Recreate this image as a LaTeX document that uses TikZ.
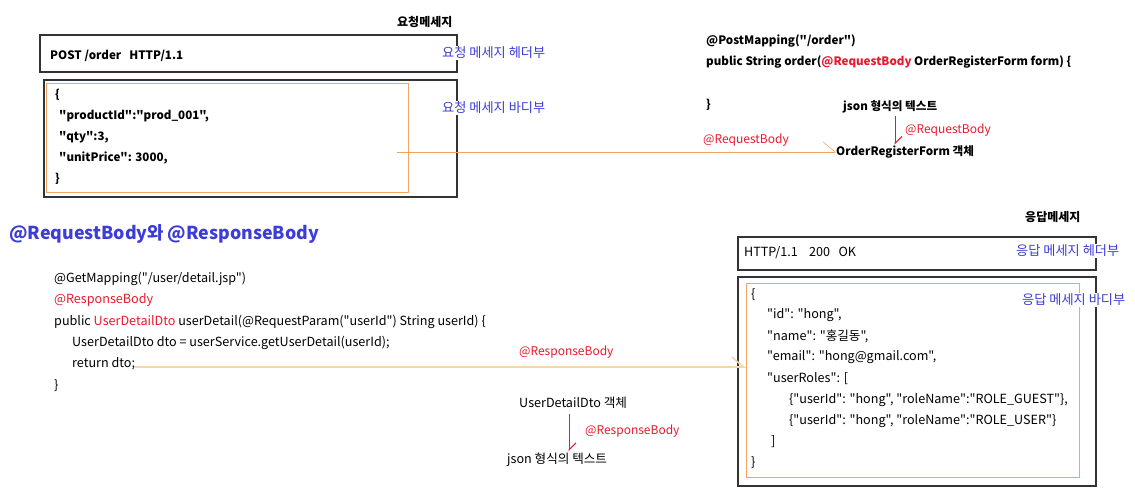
\documentclass[tikz,border=0pt]{standalone}
\usepackage{fontspec}
\setmainfont{Noto Sans CJK KR}[Ligatures=TeXOff]
\usetikzlibrary{arrows.meta,calc}
\definecolor{msgblue}{HTML}{3C3CD8}
\definecolor{annred}{HTML}{E8192C}
\definecolor{boxorange}{HTML}{F2A661}
\definecolor{lineorange}{HTML}{F4A15A}
\definecolor{linepeach}{HTML}{F8D6AC}
\definecolor{boxgray}{HTML}{333333}
\tikzset{
  codetxt/.style={anchor=west,inner sep=0pt,font=\fontsize{11.6}{13}\selectfont\bfseries},
  codelite/.style={anchor=west,inner sep=0pt,font=\fontsize{12.6}{14}\selectfont},
  msgtitle/.style={anchor=west,inner sep=0pt,font=\fontsize{12}{14}\selectfont\bfseries},
  partlabel/.style={anchor=west,fill=white,inner sep=1pt,text=msgblue,font=\fontsize{13.2}{15}\selectfont},
  annot/.style={anchor=west,inner sep=0pt,text=annred,font=\fontsize{12}{14}\selectfont},
  msgbox/.style={draw=boxgray,line width=1.1pt},
  jsonbox/.style={draw=boxorange,line width=0.9pt},
  flow/.style={-{Straight Barb[harpoon,length=12pt,width=20pt]}},
  convert/.style={draw=annred,line width=1pt,-{Straight Barb[harpoon,length=7pt,width=14pt]}}
}
\begin{document}
\begin{tikzpicture}[x=1pt,y=-1pt]
\path[use as bounding box] (0,0) rectangle (1135,493);

% request message
\node[msgtitle] (reqtitle) at (397,22) {요청메세지};
\draw[msgbox] (40,35) rectangle (457,72);
\node[codetxt] (reqline) at (50,56) {POST /order\ \ \ HTTP/1.1};
\draw[msgbox] (44,80) rectangle (457,197);
\draw[jsonbox] (46,83) rectangle (408,192);
\node[codetxt] (rq1) at (55,95) {\{};
\node[codetxt] (rq2) at (59,116) {"productId":"prod\_001",};
\node[codetxt] (rq3) at (59,137) {"qty":3,};
\node[codetxt] (rq4) at (59,158) {"unitPrice": 3000,};
\node[codetxt] (rq5) at (55,179) {\}};
\node[partlabel] (reqhead) at (441,53) {요청 메세지 헤더부};
\node[partlabel] (reqbody) at (441,108) {요청 메세지 바디부};

% controller with @RequestBody
\node[codetxt] (post1) at (706,41) {@PostMapping("/order")};
\node[codetxt] (post2) at (706,62) {public String order({\color{annred}@RequestBody} OrderRegisterForm form) \{};
\node[codetxt] (post3) at (706,105) {\}};
\node[codetxt] (json1) at (843,107) {json 형식의 텍스트};
\node[codetxt] (orf) at (836,152) {OrderRegisterForm 객체};
\node[annot] (rbconv) at (905,130) {@RequestBody};
\coordinate (reqstart) at (397,152);
\coordinate (conv1) at (895,0);
\draw[flow,draw=lineorange,line width=0.6pt] (reqstart) -- (orf.west);
\node[annot] (rbflow) at (703,140) {@RequestBody};
\draw[convert] ($(conv1 |- json1.south)+(0,3)$) -- ($(conv1 |- orf.north)+(0,-1)$);

% title
\node[anchor=west,inner sep=0pt,text=msgblue,font=\fontsize{17.8}{21}\selectfont\bfseries] (heading) at (9,234) {@RequestBody와 @ResponseBody};

% controller with @ResponseBody
\node[codelite] (get1) at (54,279) {@GetMapping("/user/detail.jsp")};
\node[codelite,text=annred] (get2) at (54,300) {@ResponseBody};
\node[codelite] (get3) at (54,322) {public {\color{annred}UserDetailDto} userDetail(@RequestParam("userId") String userId) \{};
\node[codelite] (get4) at (72,343) {UserDetailDto dto = userService.getUserDetail(userId);};
\node[codelite] (get5) at (72,364) {return dto;};
\node[codelite] (get6) at (54,386) {\}};

% response message
\node[msgtitle] (restitle) at (1025,217) {응답메세지};
\draw[msgbox] (738,237) rectangle (1096,270);
\node[codelite] (resline) at (744,253) {HTTP/1.1\ \ \ \ 200\ \ \ OK};
\draw[msgbox] (738,277) rectangle (1096,486);
\draw[jsonbox] (746,283) rectangle (1079,477);
\coordinate (resjson-w) at (746,367);
\node[codelite] (rs1) at (751,295) {\{};
\node[codelite] (rs2) at (767,315) {"id": "hong",};
\node[codelite] (rs3) at (767,336) {"name": "홍길동",};
\node[codelite] (rs4) at (767,357) {"email": "hong@gmail.com",};
\node[codelite] (rs5) at (767,379) {"userRoles": [};
\node[codelite] (rs6) at (789,400) {\{"userId": "hong", "roleName":"ROLE\_GUEST"\},};
\node[codelite] (rs7) at (789,421) {\{"userId": "hong", "roleName":"ROLE\_USER"\}};
\node[codelite] (rs8) at (771,442) {]};
\node[codelite] (rs9) at (751,463) {\}};
\node[partlabel] (reshead) at (1015,251) {응답 메세지 헤더부};
\node[partlabel] (resbody) at (1021,300) {응답 메세지 바디부};

% return value converted to json
\draw[flow,draw=linepeach,line width=1.6pt] (get5.east |- resjson-w) -- (resjson-w);
\node[annot] (rsflow) at (519,352) {@ResponseBody};
\node[codelite] (dtoobj) at (519,403) {UserDetailDto 객체};
\node[codelite] (json2) at (507,460) {json 형식의 텍스트};
\node[annot] (rsconv) at (585,431) {@ResponseBody};
\coordinate (conv2) at (569,0);
\draw[convert] ($(conv2 |- dtoobj.south)+(0,5)$) -- ($(conv2 |- json2.north)+(0,-2)$);
\end{tikzpicture}
\end{document}
